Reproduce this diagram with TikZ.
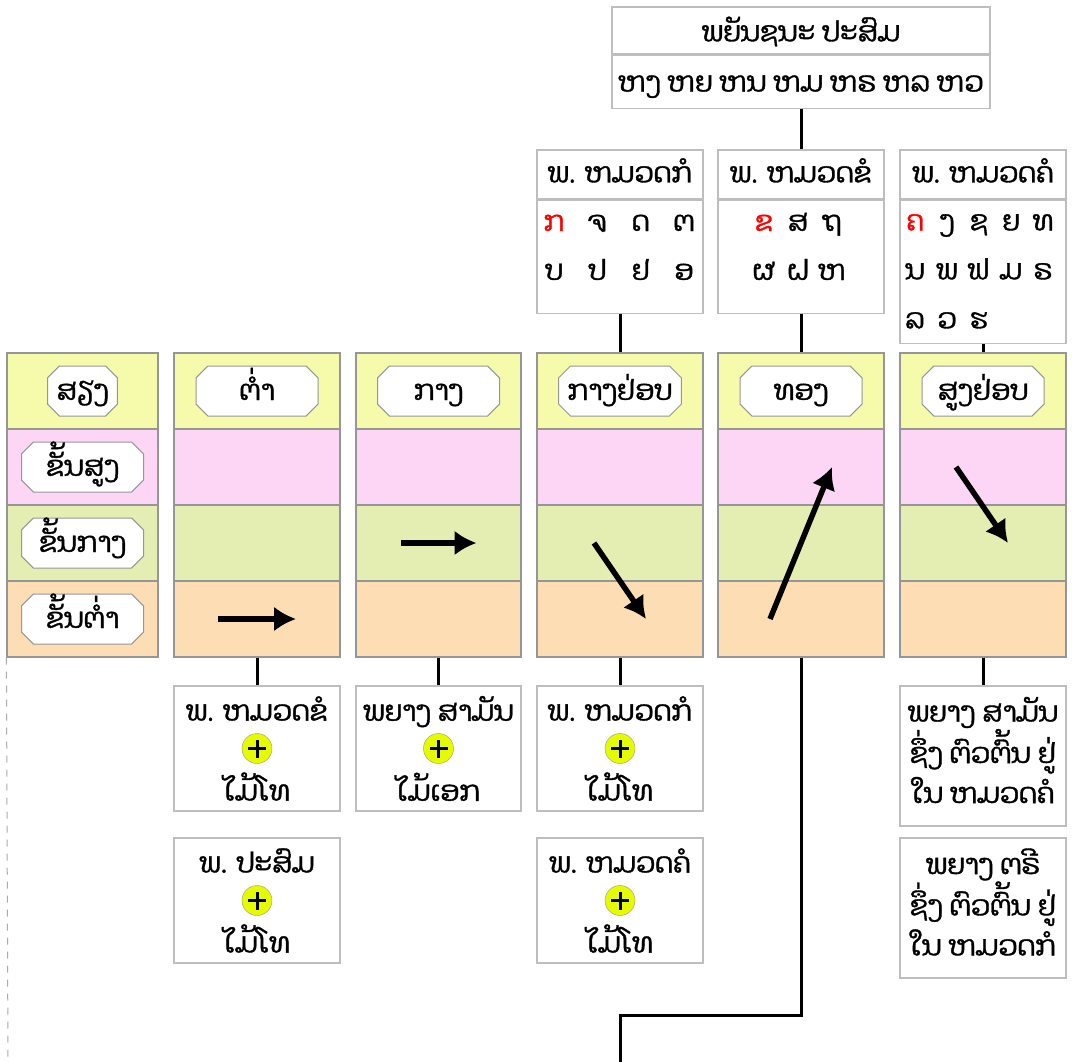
\documentclass[tikz,border=0pt]{standalone}
\usepackage{fontspec}
\newfontfamily\laofont[Script=Lao,AutoFakeBold=1.3]{Dhyana}
\usetikzlibrary{
  positioning,
  matrix,
  arrows.meta,
  shapes.misc
}
\definecolor{bandyellow}{RGB}{246,251,171}
\definecolor{bandpink}{RGB}{252,214,244}
\definecolor{bandgreen}{RGB}{228,238,178}
\definecolor{bandorange}{RGB}{253,221,180}
\definecolor{plusyellow}{RGB}{230,250,0}
\definecolor{colgray}{RGB}{150,150,150}
\definecolor{boxgray}{RGB}{190,190,190}

\begin{document}
\begin{tikzpicture}[
  x=1pt, y=-1pt,
  every node/.style={
    font=\laofont\bfseries\fontsize{28}{40}\selectfont
  },
  band/.style={
    draw=colgray,
    line width=1.2pt,
    rectangle,
    minimum height=76pt,
    inner sep=0pt
  },
  tag/.style={
    draw=colgray,
    fill=white,
    line width=1pt,
    chamfered rectangle,
    chamfered rectangle xsep=9pt,
    minimum width=122pt,
    minimum height=50pt,
    inner sep=0pt,
    text height=25pt,
    text depth=7pt
  },
  head/.style={
    draw=boxgray,
    line width=1.2pt,
    rectangle,
    minimum width=166pt,
    minimum height=49pt,
    inner sep=0pt,
    text height=23pt,
    text depth=7pt
  },
  body/.style={
    draw=boxgray,
    line width=1.2pt,
    rectangle,
    minimum width=166pt,
    inner sep=0pt
  },
  letters/.style={
    matrix of nodes,
    nodes={
      inner sep=0pt,
      minimum height=49pt,
      text height=23pt,
      text depth=7pt
    },
    column sep=0pt,
    row sep=0pt
  },
  tbox/.style={
    draw=boxgray,
    line width=1.2pt,
    rectangle,
    minimum width=166pt,
    minimum height=125pt,
    align=center,
    inner sep=0pt
  },
  plus/.style={
    circle,
    draw=colgray,
    fill=plusyellow,
    minimum size=30pt,
    inner sep=0pt,
    path picture={
      \draw[black, line width=3pt]
        ([xshift=-9pt]path picture bounding box.center) -- ([xshift=9pt]path picture bounding box.center)
        ([yshift=-9pt]path picture bounding box.center) -- ([yshift=9pt]path picture bounding box.center);
    }
  },
  link/.style={
    draw=black,
    line width=3pt
  },
  tone/.style={
    ->,
    line width=5.5pt
  },
  >={Latex[length=22pt,width=25pt]}
]
\useasboundingbox (0,0) rectangle (1072,1062);

% Compound consonants
\node[head, minimum width=378pt, minimum height=47pt, text height=29pt] (mixhead) at (801,30.5) {ພຍັນຊນະ ປະສົມ};
\node[body, minimum width=378pt, minimum height=53pt, text height=27pt, text depth=7pt, below=0pt of mixhead] (mixbody) {ຫງ ຫຍ ຫນ ຫມ ຫຣ ຫລ ຫວ};

% Consonant classes
\node[head] (midhead) at (620,174.5) {ພ. ຫມວດກໍ};
\node[body, minimum height=113pt, below=0pt of midhead] (midbody) {};
\node[head] (highhead) at (801,174.5) {ພ. ຫມວດຂໍ};
\node[body, minimum height=113pt, below=0pt of highhead] (highbody) {};
\node[head] (lowhead) at (983,174.5) {ພ. ຫມວດຄໍ};
\node[body, minimum height=143pt, below=0pt of lowhead] (lowbody) {};

\matrix[letters, nodes={minimum width=43.3pt}] (midgrid) at (619,247.5) {
|[text=red]| ກ & ຈ & ດ & ຕ \\
ບ & ປ & ຢ & ອ \\
};
\matrix[letters, nodes={minimum width=34pt}] (highgrid) at (798,247.5) {
|[text=red]| ຂ & ສ & ຖ \\
ຜ & ຝ & ຫ \\
};
\matrix[letters, nodes={minimum width=32pt}] (lowgrid) at (979,271.5) {
|[text=red]| ຄ & ງ & ຊ & ຍ & ທ \\
ນ & ພ & ຟ & ມ & ຣ \\
ລ & ວ & ຮ & & \\
};

% Tone columns
\foreach \c/\x/\w in {1/82.5/151,2/257/166,3/438.5/165,4/620/166,5/801/166,6/983/166} {
  \foreach \r/\y/\fillc in {1/391/bandyellow,2/467/bandpink,3/543/bandgreen,4/619/bandorange} {
    \node[band, fill=\fillc, minimum width=\w*1pt] (c\c-\r) at (\x,\y) {};
  }
}

% Labels
\node[tag, minimum width=52pt] (tone) at (c1-1) {ສຽງ};
\node[tag] (lvlhigh) at (c1-2) {ຂັ້ນສູງ};
\node[tag] (lvlmid) at (c1-3) {ຂັ້ນກາງ};
\node[tag] (lvllow) at (c1-4) {ຂັ້ນຕ່ຳ};
\node[tag] (tlow) at (c2-1) {ຕ່ຳ};
\node[tag] (tmid) at (c3-1) {ກາງ};
\node[tag] (tmidfall) at (c4-1) {ກາງຢ່ອບ};
\node[tag] (trise) at (c5-1) {ທອງ};
\node[tag] (thighfall) at (c6-1) {ສູງຢ່ອບ};

% Tone arrows
\draw[tone] ([xshift=-39pt]c2-4.center) -- ([xshift=39pt]c2-4.center);
\draw[tone] ([xshift=-38pt]c3-3.center) -- ([xshift=38pt]c3-3.center);
\draw[tone] ([xshift=-26pt]c4-3.center) -- ([xshift=26pt]c4-4.center);
\draw[tone] ([xshift=-31pt]c5-4.center) -- ([xshift=31pt]c5-2.center);
\draw[tone] ([xshift=-27pt]c6-2.center) -- ([xshift=25pt]c6-3.center);

% Rules
\node[tbox] (lowa) at (257,748.5) {ພ. ຫມວດຂໍ\\[40pt]ໄມ້ໂທ};
\node[plus] (lowaplus) at (lowa.center) {};
\node[tbox] (lowb) at (257,900.5) {ພ. ປະສົມ\\[40pt]ໄມ້ໂທ};
\node[plus] (lowbplus) at (lowb.center) {};
\node[tbox, minimum width=165pt] (mida) at (438.5,748.5) {ພຍາງ ສາມັນ\\[40pt]ໄມ້ເອກ};
\node[plus] (midaplus) at (mida.center) {};
\node[tbox] (midfalla) at (620,748.5) {ພ. ຫມວດກໍ\\[40pt]ໄມ້ໂທ};
\node[plus] (midfallaplus) at (midfalla.center) {};
\node[tbox] (midfallb) at (620,900.5) {ພ. ຫມວດຄໍ\\[40pt]ໄມ້ໂທ};
\node[plus] (midfallbplus) at (midfallb.center) {};
\node[tbox, minimum height=140pt] (highfalla) at (983,756) {};
\node[align=center, inner sep=0pt] (highfallatext) at ([yshift=6pt]highfalla.center) {ພຍາງ ສາມັນ\\ຊຶ່ງ ຕົວຕົ້ນ ຢູ່\\ໃນ ຫມວດຄໍ};
\node[tbox, minimum height=140pt] (highfallb) at (983,908) {};
\node[align=center, inner sep=0pt] (highfallbtext) at ([yshift=6pt]highfallb.center) {ພຍາງ ຕຣີ\\ຊຶ່ງ ຕົວຕົ້ນ ຢູ່\\ໃນ ຫມວດກໍ};

% Links
\draw[link] (mixbody.south) -- (highhead.north);
\draw[link] (midbody.south) -- (c4-1.north);
\draw[link] (highbody.south) -- (c5-1.north);
\draw[link] (lowbody.south) -- (c6-1.north);
\draw[link] (c2-4.south) -- (lowa.north);
\draw[link] (c3-4.south) -- (mida.north);
\draw[link] (c4-4.south) -- (midfalla.north);
\draw[link] (c6-4.south) -- (highfalla.north);
\coordinate (bend) at (620,1015);
\coordinate (exit) at (620,1062);
\draw[link] (c5-4.south) |- (bend) -- (exit);
\coordinate (dashend) at (8,1062);
\draw[colgray!80, line width=1pt, dash pattern=on 7pt off 7pt] (c1-4.south west) -- (dashend);

\end{tikzpicture}
\end{document}
